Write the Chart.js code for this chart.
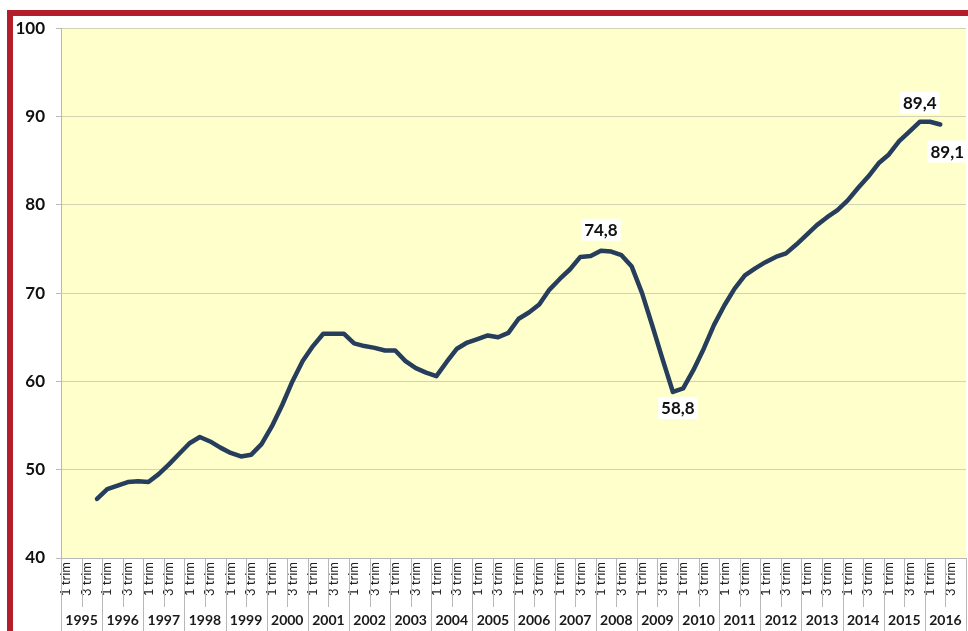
<!DOCTYPE html>
<html>
<head>
<meta charset="utf-8">
<script src="https://cdn.jsdelivr.net/npm/chart.js@4.4.1/dist/chart.umd.min.js"></script>
<style>
  html, body { margin: 0; padding: 0; background: #fff; }
  #chart { position: absolute; left: 13px; top: 7px; display: block; }
  .bar { position: absolute; background: #b21e2c; z-index: 2; }
  #barTop { left: 7px; top: 10px; width: 961px; height: 6px; }
  #barLeft { left: 7px; top: 10px; width: 6px; height: 621px; }
</style>
</head>
<body>
<canvas id="chart" width="955" height="624"></canvas>
<div class="bar" id="barTop"></div>
<div class="bar" id="barLeft"></div>
<script>
// quarterly series, 1995 Q1 .. 2016 Q4 (nulls where there is no data)
const years = [1995, 1996, 1997, 1998, 1999, 2000, 2001, 2002, 2003, 2004, 2005,
               2006, 2007, 2008, 2009, 2010, 2011, 2012, 2013, 2014, 2015, 2016];
const quarterTicks = ['1 trim', '', '3 trim', ''];
const values = [
  null, null, null, 46.7,
  47.8, 48.2, 48.6, 48.7,
  48.6, 49.5, 50.6, 51.8,
  53.0, 53.7, 53.2, 52.5,
  51.9, 51.5, 51.7, 52.9,
  54.9, 57.3, 60.0, 62.3,
  64.0, 65.4, 65.4, 65.4,
  64.3, 64.0, 63.8, 63.5,
  63.5, 62.3, 61.5, 61.0,
  60.6, 62.2, 63.7, 64.4,
  64.8, 65.2, 65.0, 65.5,
  67.1, 67.8, 68.7, 70.4,
  71.6, 72.7, 74.1, 74.2,
  74.8, 74.7, 74.3, 73.0,
  70.0, 66.3, 62.5, 58.8,
  59.2, 61.3, 63.7, 66.4,
  68.6, 70.5, 72.0, 72.8,
  73.5, 74.1, 74.5, 75.5,
  76.6, 77.7, 78.6, 79.4,
  80.5, 81.9, 83.2, 84.7,
  85.7, 87.2, 88.3, 89.4,
  89.4, 89.1, null, null
];
const yTicks = [40, 50, 60, 70, 80, 90, 100];
// points that get a value label
const labelledPoints = [52, 59, 83, 85];

const categories = [];
years.forEach(y => quarterTicks.forEach((q, i) => categories.push(y + ' T' + (i + 1))));

const fmt = v => v.toFixed(1).replace('.', ',');

// yellow plot background
const plotBg = {
  id: 'plotBg',
  beforeDraw(chart) {
    const { ctx, chartArea: a } = chart;
    ctx.save();
    ctx.fillStyle = '#ffffcc';
    ctx.fillRect(a.left, a.top, a.right - a.left, a.bottom - a.top);
    ctx.restore();
  }
};

// second level of the category axis: separators and years
const yearAxis = {
  id: 'yearAxis',
  afterDraw(chart) {
    const { ctx } = chart;
    const x = chart.scales.x;
    const step = x.getPixelForValue(1) - x.getPixelForValue(0);
    const top = x.top;
    ctx.save();
    ctx.strokeStyle = '#b8b8b8';
    ctx.lineWidth = 1;
    for (let i = 0; i <= categories.length; i += 2) {
      const px = Math.round(x.getPixelForValue(i) - step / 2) + 0.5;
      const bottom = i % 4 === 0 ? chart.height : top + 49;
      ctx.beginPath();
      ctx.moveTo(px, top);
      ctx.lineTo(px, bottom);
      ctx.stroke();
    }
    ctx.fillStyle = '#1a1a1a';
    ctx.font = 'bold 14px Lato, "Open Sans", sans-serif';
    ctx.textAlign = 'center';
    ctx.textBaseline = 'middle';
    years.forEach((y, k) => {
      const cx = (x.getPixelForValue(k * 4) + x.getPixelForValue(k * 4 + 3)) / 2;
      ctx.fillText(String(y), cx, top + 62);
    });
    ctx.restore();
  }
};

// value labels in white boxes
const valueLabels = {
  id: 'valueLabels',
  afterDatasetsDraw(chart) {
    const { ctx } = chart;
    const pts = chart.getDatasetMeta(0).data;
    const offsets = { 52: [0, -21], 59: [5, 16], 83: [0, -19], 85: [7, 27] };
    ctx.save();
    ctx.font = 'bold 17px Lato, "Open Sans", sans-serif';
    ctx.textAlign = 'center';
    ctx.textBaseline = 'middle';
    labelledPoints.forEach(i => {
      const p = pts[i];
      const t = fmt(values[i]);
      const [dx, dy] = offsets[i];
      const w = ctx.measureText(t).width + 6;
      const cx = p.x + dx, cy = p.y + dy;
      ctx.fillStyle = '#ffffff';
      ctx.fillRect(cx - w / 2, cy - 11, w, 22);
      ctx.fillStyle = '#111111';
      ctx.fillText(t, cx, cy + 1);
    });
    ctx.restore();
  }
};

new Chart(document.getElementById('chart'), {
  type: 'line',
  data: {
    labels: categories,
    datasets: [{
      data: values,
      borderColor: '#263d5c',
      borderWidth: 4.5,
      borderJoinStyle: 'round',
      borderCapStyle: 'round',
      pointRadius: 0,
      tension: 0,
      fill: false,
      spanGaps: false
    }]
  },
  options: {
    responsive: false,
    animation: false,
    layout: { padding: { top: 0, right: 2, left: 0, bottom: 0 } },
    plugins: { legend: { display: false }, tooltip: { enabled: false } },
    scales: {
      x: {
        type: 'category',
        offset: true,
        grid: { display: false, drawTicks: false },
        border: { display: true, color: '#b8b8b8' },
        afterFit(s) { s.height = 73; s.paddingRight = 0; s.paddingLeft = 0; },
        ticks: {
          autoSkip: false,
          minRotation: 90,
          maxRotation: 90,
          padding: 4,
          color: '#222222',
          font: { family: 'Lato, "Open Sans", sans-serif', size: 13 },
          callback: (v, i) => quarterTicks[i % 4]
        }
      },
      y: {
        min: 40,
        max: 100,
        afterFit(s) { s.width = 48; },
        afterBuildTicks(s) { s.ticks = yTicks.map(v => ({ value: v })); },
        grid: { color: '#d2d2b4', tickLength: 5, tickColor: '#b8b8b8' },
        border: { display: true, color: '#b8b8b8' },
        ticks: {
          padding: 11,
          color: '#111111',
          font: { family: 'Lato, "Open Sans", sans-serif', size: 17, weight: 'bold' }
        }
      }
    }
  },
  plugins: [plotBg, yearAxis, valueLabels]
});
</script>
</body>
</html>
